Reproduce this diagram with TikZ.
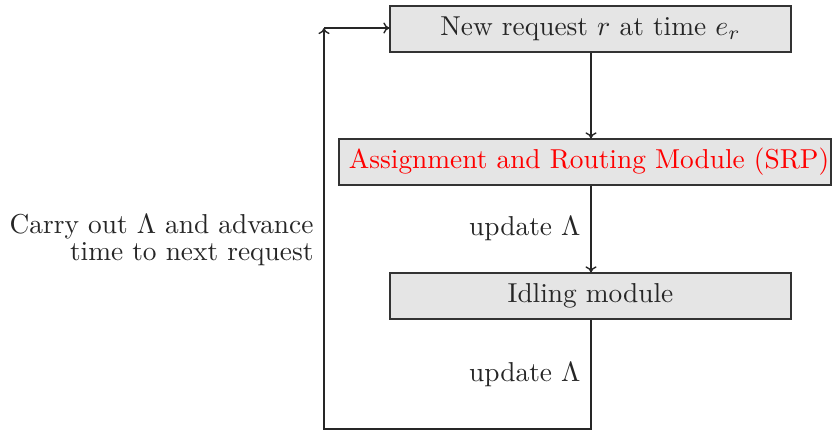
\documentclass[tikz,border=0pt]{standalone}
\usetikzlibrary{arrows.meta}
\begin{document}
\begin{tikzpicture}[x=0.36pt,y=-0.36pt,
  modbox/.style={draw=black!80,fill=gray!20,line width=0.4pt,minimum height=16.56pt,inner sep=0pt,font=\fontsize{9.85}{12}\selectfont},
  lbl/.style={font=\fontsize{9.85}{12}\selectfont,inner sep=0pt,text=black!85},
  conn/.style={draw=black!85,line width=0.5pt},
  arr/.style={-{To[length=2.2pt,width=4pt]}}]
\useasboundingbox (0,0) rectangle (834,432);
\node[modbox,minimum width=144.36pt,text=black!85] (new) at (590.5,29) {New request $r$ at time $e_r$};
\node[modbox,minimum width=177.12pt,text=red] (srp) at (585,162) {\hspace*{2.9pt}Assignment and Routing Module (SRP)};
\node[modbox,minimum width=144.36pt,text=black!85] (idle) at (590.5,296) {Idling module};
\coordinate (bot) at (591,429);
\coordinate (botl) at (324,429);
\coordinate (topl) at (324,28);
\draw[conn,arr] (new.south -| 591,0) -- (srp.north -| 591,0);
\draw[conn,arr] (srp.south -| 591,0) -- (idle.north -| 591,0);
\draw[conn,arr] (idle.south -| 591,0) -- (bot) -- (botl) -- (topl);
\draw[conn,arr] (topl) -- (new.west |- topl);
\node[lbl,anchor=east] (u1) at (581,229) {update $\Lambda$};
\node[lbl,anchor=east] (u2) at (581,375) {update $\Lambda$};
\node[lbl,anchor=east,align=right,font=\fontsize{9.85}{7.9}\selectfont] (carry) at (314,240) {Carry out $\Lambda$ and advance\\time to next request};
\end{tikzpicture}
\end{document}
